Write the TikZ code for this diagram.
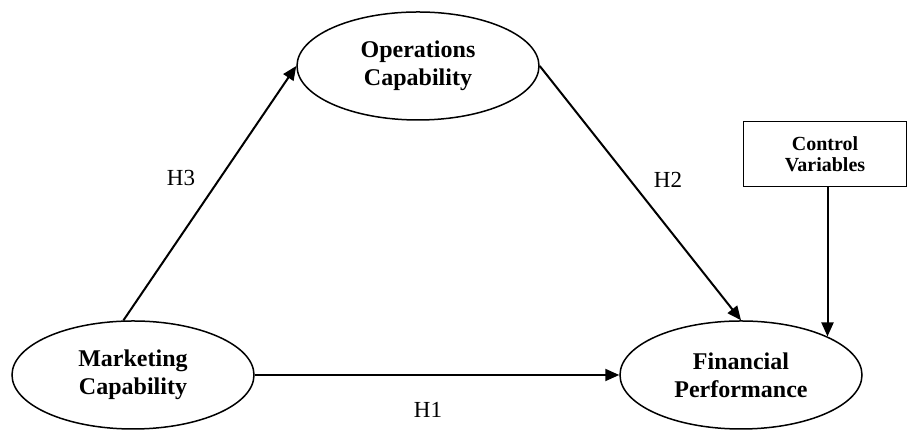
\documentclass[tikz,border=0pt]{standalone}
\usepackage{fontspec}
\setmainfont{Liberation Serif}
\usetikzlibrary{shapes.geometric,arrows.meta}
\tikzset{
  construct/.style={ellipse,draw,line width=0.75pt,minimum width=121pt,minimum height=54pt,
    inner sep=0pt,align=center,font=\fontsize{12}{14}\selectfont\bfseries},
  controlbox/.style={rectangle,draw,line width=0.75pt,minimum width=81.5pt,minimum height=32.5pt,
    inner sep=0pt,align=center,font=\fontsize{10}{10.5}\selectfont\bfseries},
  hyp/.style={font=\fontsize{11.5}{13}\selectfont},
  link/.style={line width=1pt,-{Triangle[length=7pt,width=6pt]}}
}
\begin{document}
\begin{tikzpicture}[x=0.5pt,y=-0.5pt]
      \useasboundingbox (0,0) rectangle (907,431);
      \draw
        (418,66) node[construct] (ops){Operations\\Capability}
        (133,375) node[construct] (mkt){Marketing\\Capability}
        (741,375) node[construct] (fin){Financial\\Performance}
        (825,154) node[controlbox] (ctrl){Control\\Variables};
      \draw
        (181,178) node[hyp] (h3){H3}
        (668,180) node[hyp] (h2){H2}
        (428,410) node[hyp] (h1){H1};
      \begin{scope}[link]
        \draw (mkt.100) to (ops.west);
        \draw (ops.east) to (fin.north);
        \draw (mkt.east) to (fin.west);
        \draw (fin.24 |- ctrl.south) to (fin.24);
      \end{scope}
    \end{tikzpicture}
\end{document}
